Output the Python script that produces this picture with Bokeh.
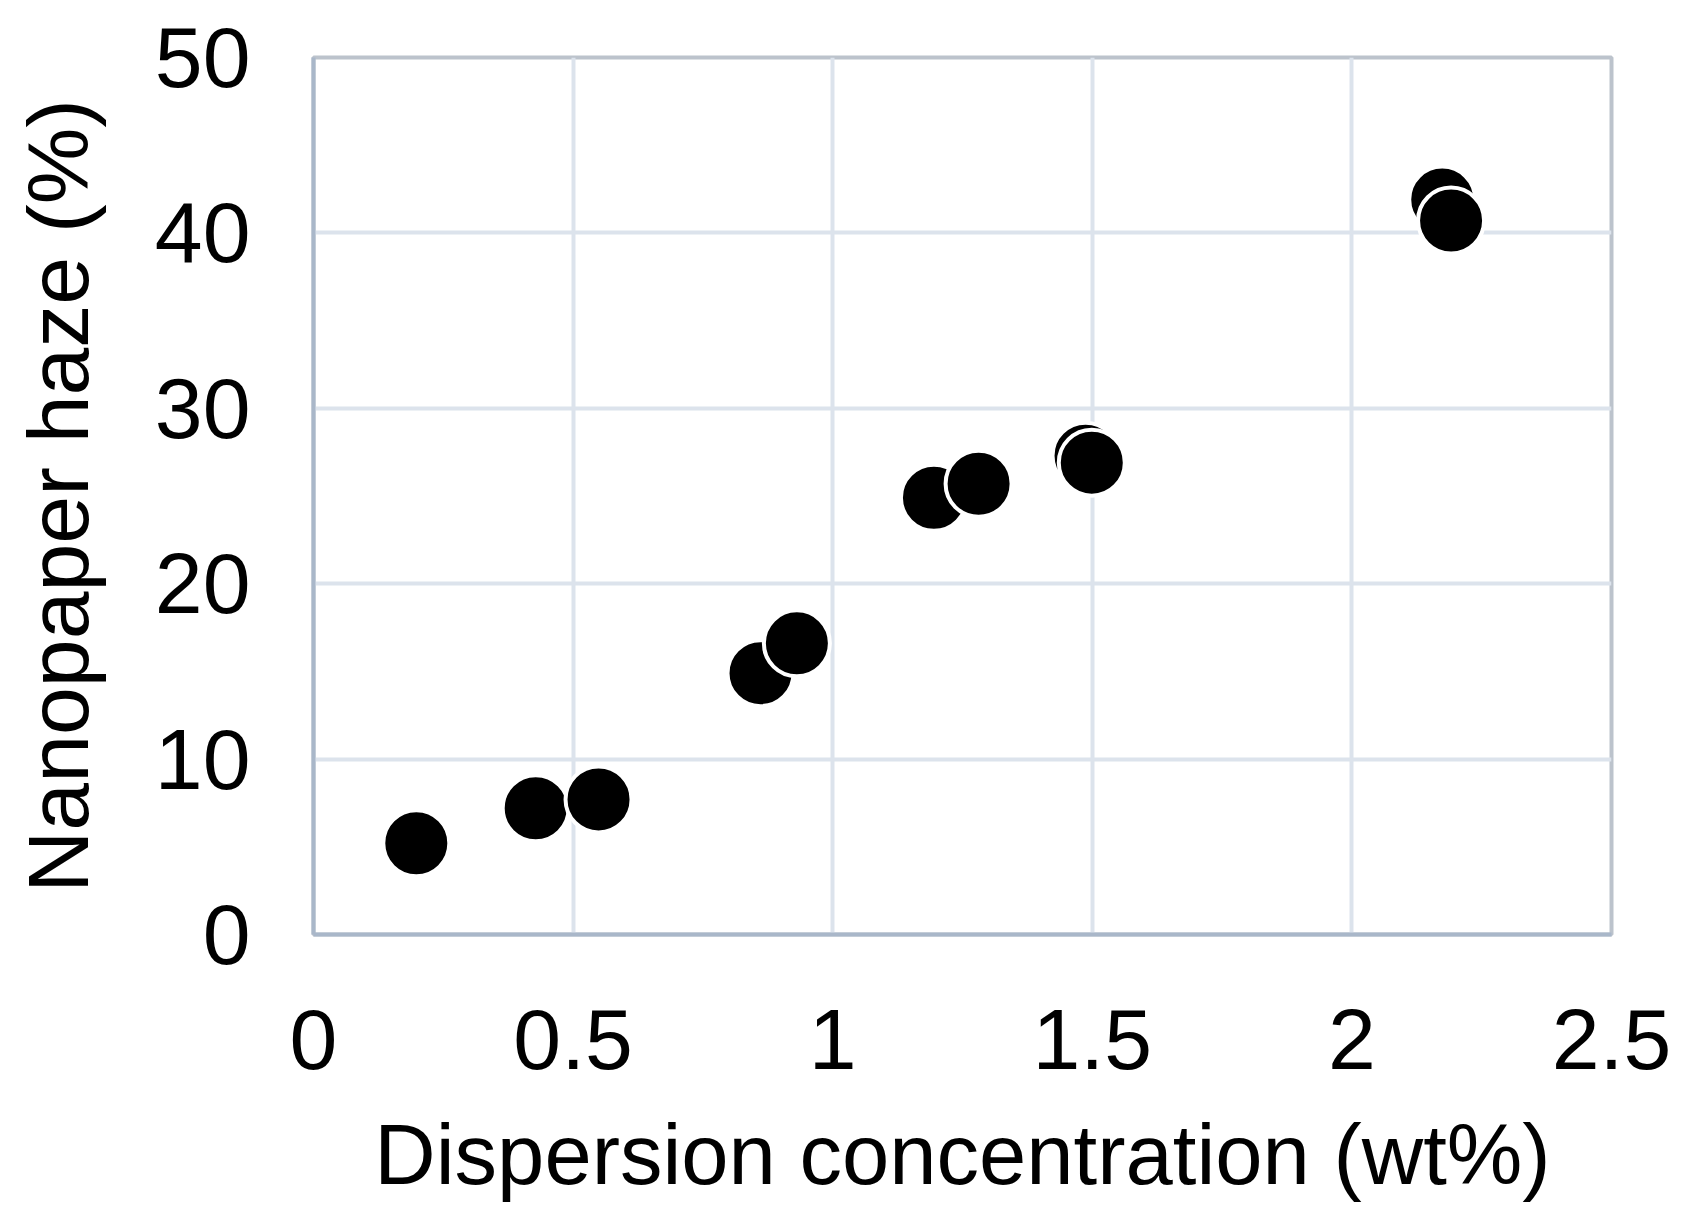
from bokeh.plotting import figure
from bokeh.models import Range1d, FixedTicker, NumeralTickFormatter, ColumnDataSource
from bokeh.embed import file_html
from bokeh.resources import INLINE

# Data
conc = [0.198, 0.428, 0.549, 0.861, 0.931, 1.195, 1.281, 1.487, 1.499, 2.174, 2.191]
haze = [5.2, 7.2, 7.7, 14.9, 16.6, 24.9, 25.7, 27.3, 26.9, 41.9, 40.7]
x_ticks = [0, 0.5, 1, 1.5, 2, 2.5]
y_ticks = [0, 10, 20, 30, 40, 50]

FONT = "Liberation Sans"

p = figure(width=1679, height=1210, output_backend="svg", toolbar_location=None,
           x_range=Range1d(0, 2.5), y_range=Range1d(0, 50),
           min_border_left=313, min_border_right=68, min_border_top=57, min_border_bottom=276)

p.background_fill_color = "white"
p.border_fill_color = "white"
p.outline_line_color = "#BCC3CC"
p.outline_line_width = 4

src = ColumnDataSource(data=dict(x=conc, y=haze))
p.scatter("x", "y", source=src, size=66, fill_color="black", line_color="white", line_width=4)

p.xaxis.ticker = FixedTicker(ticks=x_ticks)
p.yaxis.ticker = FixedTicker(ticks=y_ticks)
p.xaxis.formatter = NumeralTickFormatter(format="0.[0]")
p.yaxis.formatter = NumeralTickFormatter(format="0")

for ax in (p.xaxis, p.yaxis):
    ax.major_tick_line_color = None
    ax.minor_tick_line_color = None
    ax.axis_line_color = "#A9B7C9"
    ax.axis_line_width = 4
    ax.major_label_text_font = FONT
    ax.major_label_text_font_size = "86px"
    ax.major_label_text_color = "black"
    ax.axis_label_text_font = FONT
    ax.axis_label_text_font_style = "normal"
    ax.axis_label_text_color = "black"

p.xaxis.axis_label_text_font_size = "85px"
p.yaxis.axis_label_text_font_size = "86px"
p.xaxis.axis_label = "Dispersion concentration (wt%)"
p.yaxis.axis_label = "Nanopaper haze (%)"
p.xaxis.major_label_standoff = 69
p.xaxis.axis_label_standoff = 35
p.yaxis.major_label_standoff = 57
p.yaxis.axis_label_standoff = 46

p.xgrid.ticker = FixedTicker(ticks=[0.5, 1, 1.5, 2])
p.ygrid.ticker = FixedTicker(ticks=[10, 20, 30, 40])
p.grid.grid_line_color = "#DCE3EC"
p.grid.grid_line_width = 4

open("out.html", "w").write(file_html(p, INLINE))
